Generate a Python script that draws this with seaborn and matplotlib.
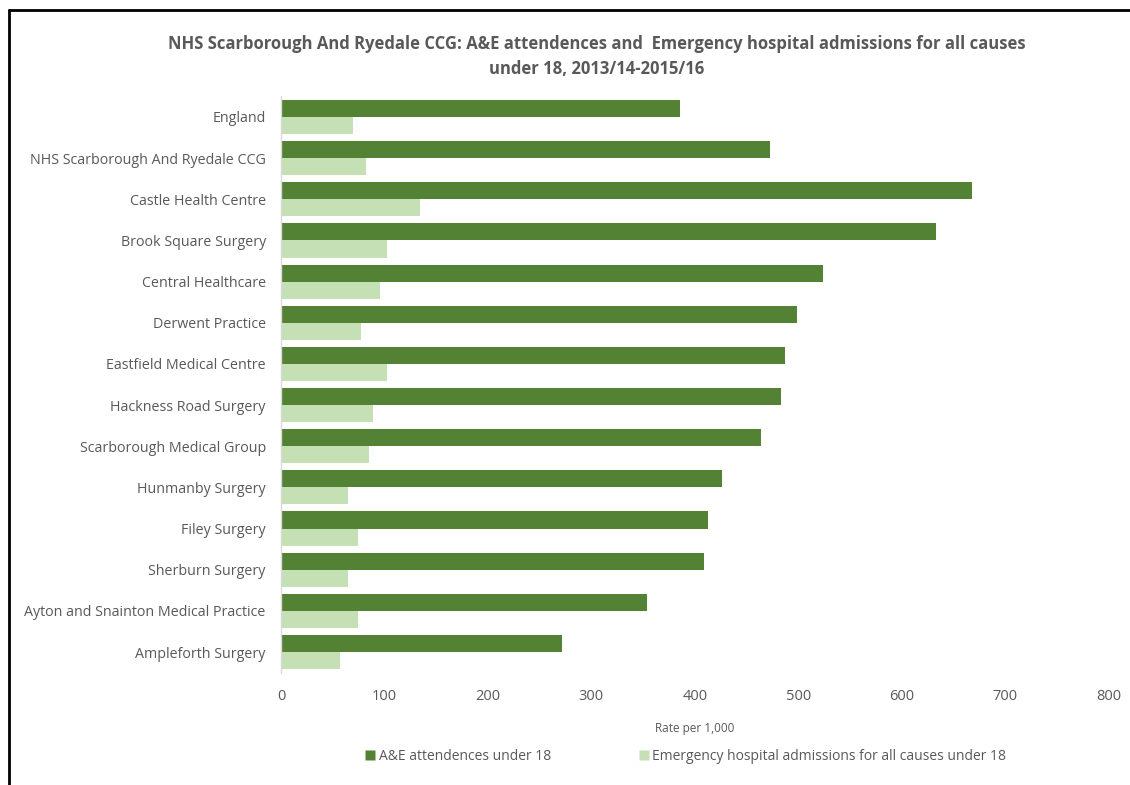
import matplotlib
matplotlib.use("Agg")
import matplotlib.pyplot as plt
import seaborn as sns
import pandas as pd
from matplotlib.lines import Line2D

practices = [
    "England",
    "NHS Scarborough And Ryedale CCG",
    "Castle Health Centre",
    "Brook Square Surgery",
    "Central Healthcare",
    "Derwent Practice",
    "Eastfield Medical Centre",
    "Hackness Road Surgery",
    "Scarborough Medical Group",
    "Hunmanby Surgery",
    "Filey Surgery",
    "Sherburn Surgery",
    "Ayton and Snainton Medical Practice",
    "Ampleforth Surgery",
]
ae_attendances = [386, 473, 668, 633, 524, 499, 487, 483, 464, 426, 413, 409, 354, 272]
emergency_admissions = [70, 82, 134, 102, 96, 77, 102, 89, 85, 65, 74, 65, 74, 57]
series_names = ["A&E attendences under 18",
                "Emergency hospital admissions for all causes under 18"]
x_ticks = [0, 100, 200, 300, 400, 500, 600, 700, 800]

df = pd.DataFrame({
    "Practice": practices * 2,
    "Value": ae_attendances + emergency_admissions,
    "Series": [series_names[0]] * len(practices) + [series_names[1]] * len(practices),
})

sns.set_style("white")
plt.rcParams["font.family"] = ["Open Sans", "DejaVu Sans"]
grey = "#595959"

fig = plt.figure(figsize=(11.3, 7.85), dpi=100)
ax = fig.add_axes([0.2487, 0.1432, 0.7323, 0.734])

palette = {series_names[0]: "#548235", series_names[1]: "#C5E0B4"}
sns.barplot(data=df, y="Practice", x="Value", hue="Series", order=practices,
            hue_order=series_names, palette=palette, orient="h", width=0.83,
            gap=0, saturation=1, ax=ax, legend=False, edgecolor="none")

ax.set_xlim(0, 800)
ax.set_ylim(len(practices) - 0.5, -0.5)
ax.set_xticks(x_ticks)
ax.set_xticklabels([str(t) for t in x_ticks], color=grey, fontsize=10.5)
ax.tick_params(axis="y", labelsize=10.3, labelcolor=grey, length=0, pad=11)
ax.tick_params(axis="x", length=0, pad=12)
ax.set_ylabel("")
ax.set_xlabel("Rate per 1,000", color=grey, fontsize=8.5, labelpad=13)
for s in ["top", "right", "bottom"]:
    ax.spines[s].set_visible(False)
ax.spines["left"].set_color("#D9D9D9")
ax.spines["left"].set_linewidth(1)

fig.suptitle("NHS Scarborough And Ryedale CCG: A&E attendences and  Emergency hospital admissions for all causes\nunder 18, 2013/14-2015/16",
             x=0.528, y=0.955, fontsize=12, fontweight="bold", color=grey, linespacing=1.45)

handles = [Line2D([0], [0], marker="s", linestyle="none", markersize=7,
                  markerfacecolor=palette[n], markeredgecolor="none") for n in series_names]
fig.legend(handles, series_names, loc="center", bbox_to_anchor=(0.606, 0.036), ncol=2,
           frameon=False, fontsize=10, labelcolor=grey, handletextpad=0.1,
           columnspacing=6.2, handlelength=1)

# outer frame (left and top edges)
fig.add_artist(Line2D([0.008, 0.008], [0.0, 0.987], transform=fig.transFigure,
                      color="black", linewidth=2))
fig.add_artist(Line2D([0.008, 1.0], [0.987, 0.987], transform=fig.transFigure,
                      color="black", linewidth=2))

fig.savefig("out.png", dpi=100)
